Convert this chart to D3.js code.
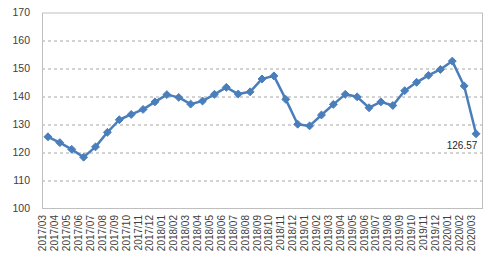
<!DOCTYPE html>
<html>
<head>
<meta charset="utf-8">
<script src="https://cdn.jsdelivr.net/npm/d3@7"></script>
<style>
  body { margin: 0; background: #fff; }
  svg { display: block; font-family: "Liberation Sans", Arial, sans-serif; }
</style>
</head>
<body>
<div id="chart"></div>
<script>
const months = [
  '2017/03','2017/04','2017/05','2017/06','2017/07','2017/08','2017/09','2017/10','2017/11','2017/12',
  '2018/01','2018/02','2018/03','2018/04','2018/05','2018/06','2018/07','2018/08','2018/09','2018/10','2018/11','2018/12',
  '2019/01','2019/02','2019/03','2019/04','2019/05','2019/06','2019/07','2019/08','2019/09','2019/10','2019/11','2019/12',
  '2020/01','2020/02','2020/03'
];
const values = [
  125.5, 123.4, 121.0, 118.2, 121.9, 127.1, 131.6, 133.5, 135.3, 138.0,
  140.6, 139.6, 137.2, 138.3, 140.7, 143.2, 140.8, 141.6, 146.2, 147.3, 138.9, 130.0,
  129.4, 133.3, 137.1, 140.7, 139.8, 135.9, 138.0, 136.7, 142.0, 145.0, 147.5, 149.6,
  152.6, 143.7, 126.57
];
const yTicks = [100, 110, 120, 130, 140, 150, 160, 170];
const lastLabel = '126.57';

const W = 500, H = 267;
const margin = { top: 12.5, right: 18, bottom: 59, left: 42 };
const width = W - margin.left - margin.right;
const height = H - margin.top - margin.bottom;

const svg = d3.select('#chart').append('svg')
  .attr('width', W)
  .attr('height', H)
  .append('g')
  .attr('transform', `translate(${margin.left},${margin.top})`);

const x = d3.scaleBand().domain(months).range([0, width]);
const y = d3.scaleLinear().domain([100, 170]).range([height, 0]);

// dashed gridlines
svg.append('g')
  .selectAll('line')
  .data(yTicks.slice(1, -1))
  .enter().append('line')
  .attr('x1', 0).attr('x2', width)
  .attr('y1', d => Math.round(y(d)) + 0.5)
  .attr('y2', d => Math.round(y(d)) + 0.5)
  .attr('stroke', '#a6a6a6')
  .attr('stroke-dasharray', '3,3');

// plot frame
svg.append('rect')
  .attr('x', 0.5).attr('y', 0.5)
  .attr('width', width).attr('height', height)
  .attr('fill', 'none')
  .attr('stroke', '#bfbfbf');

svg.append('g')
  .call(d3.axisLeft(y).tickValues(yTicks).tickSize(0).tickPadding(12))
  .call(g => g.select('.domain').remove())
  .call(g => g.selectAll('text')
    .attr('font-size', 10.5)
    .attr('fill', '#404040')
    .attr('font-family', '"Liberation Sans", Arial, sans-serif'));

svg.append('g')
  .attr('transform', `translate(0,${height})`)
  .call(d3.axisBottom(x).tickSize(0))
  .call(g => g.select('.domain').remove())
  .call(g => g.selectAll('text')
    .attr('font-size', 10)
    .attr('fill', '#404040')
    .attr('font-family', '"Liberation Sans", Arial, sans-serif')
    .attr('transform', 'rotate(-90)')
    .attr('text-anchor', 'end')
    .attr('dx', '-0.7em')
    .attr('dy', '-0.45em'));

const line = d3.line()
  .x((d, i) => x(months[i]) + x.bandwidth() / 2)
  .y(d => y(d));

svg.append('path')
  .datum(values)
  .attr('fill', 'none')
  .attr('stroke', '#4a7ebb')
  .attr('stroke-width', 2.5)
  .attr('stroke-linejoin', 'round')
  .attr('d', line);

svg.selectAll('.dot')
  .data(values)
  .enter().append('path')
  .attr('class', 'dot')
  .attr('d', d3.symbol(d3.symbolDiamond2, 40))
  .attr('transform', (d, i) => `translate(${x(months[i]) + x.bandwidth() / 2},${y(d)})`)
  .attr('fill', '#4a7ebb')
  .attr('stroke', '#4a7ebb')
  .attr('stroke-width', 1);

const li = values.length - 1;
svg.append('text')
  .attr('x', x(months[li]) + x.bandwidth() / 2 - 14)
  .attr('y', y(values[li]) + 15)
  .attr('text-anchor', 'middle')
  .attr('font-size', 10)
  .attr('fill', '#262626')
  .text(lastLabel);
</script>
</body>
</html>
